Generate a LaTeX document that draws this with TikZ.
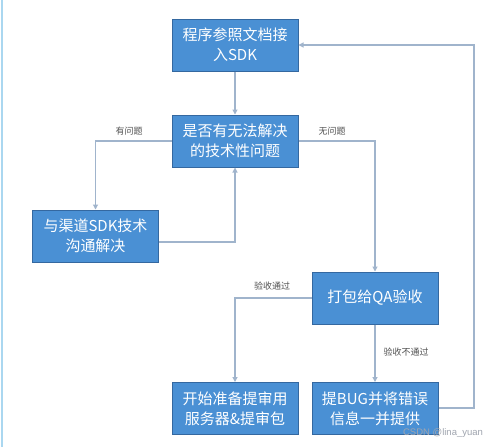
\documentclass[tikz,border=0pt]{standalone}
\usepackage{fontspec}
\newfontfamily\cjk{Noto Sans CJK SC}
\usetikzlibrary{arrows.meta}
\definecolor{boxfill}{RGB}{74,144,212}
\definecolor{boxline}{RGB}{52,104,160}
\definecolor{conn}{RGB}{160,180,204}
\definecolor{lbl}{RGB}{80,80,80}
\begin{document}
\begin{tikzpicture}[x=1pt,y=-1pt,
  stepbox/.style={draw=boxline,line width=1pt,fill=boxfill,minimum width=126pt,minimum height=52pt,
    inner sep=0pt,align=center,text=white,font=\cjk\fontsize{15}{20}\selectfont},
  conn/.style={draw=conn,line width=1.1pt,-{Triangle[length=5pt,width=5pt]}},
  lab/.style={font=\cjk\fontsize{9}{11}\selectfont,text=lbl}]
\useasboundingbox (0,0) rectangle (499,447);
\fill[white] (0,0) rectangle (499,447);
\draw[color={rgb,255:red,170;green,215;blue,240},line width=2pt] (2,0) -- (2,447);
\node[stepbox] (a) at (235,45) {程序参照文档接\\入SDK};
\node[stepbox] (b) at (235,141) {是否有无法解决\\的技术性问题};
\node[stepbox] (c) at (95.5,236) {与渠道SDK技术\\沟通解决};
\node[stepbox] (d) at (375,298) {打包给QA验收};
\node[stepbox] (e) at (235,408.5) {开始准备提审用\\服务器\&提审包};
\node[stepbox] (f) at (375,408.5) {提BUG并将错误\\信息一并提供};
\draw[conn] (a) -- (b);
\draw[conn] (b.west) -| (c.north);
\draw[conn] (b.east) -| (d.north);
\draw[conn] (c.east |- 0,242) -| (b.south);
\draw[conn] (d.west) -| (e.north);
\draw[conn] (d) -- (f);
\draw[conn] (f.east |- 0,408) -- (474,408) |- (a.east);
\node[lab] (l1) at (129,131) {有问题};
\node[lab] (l2) at (332,131) {无问题};
\node[lab] (l3) at (272,286) {验收通过};
\node[lab] (l4) at (406,352) {验收不通过};
\node[font=\fontspec{Liberation Sans}\fontsize{9.5}{11}\selectfont,text={rgb,255:red,160;green,165;blue,175}] (wm) at (443,433) {CSDN @lina\_yuan};
\end{tikzpicture}
\end{document}
